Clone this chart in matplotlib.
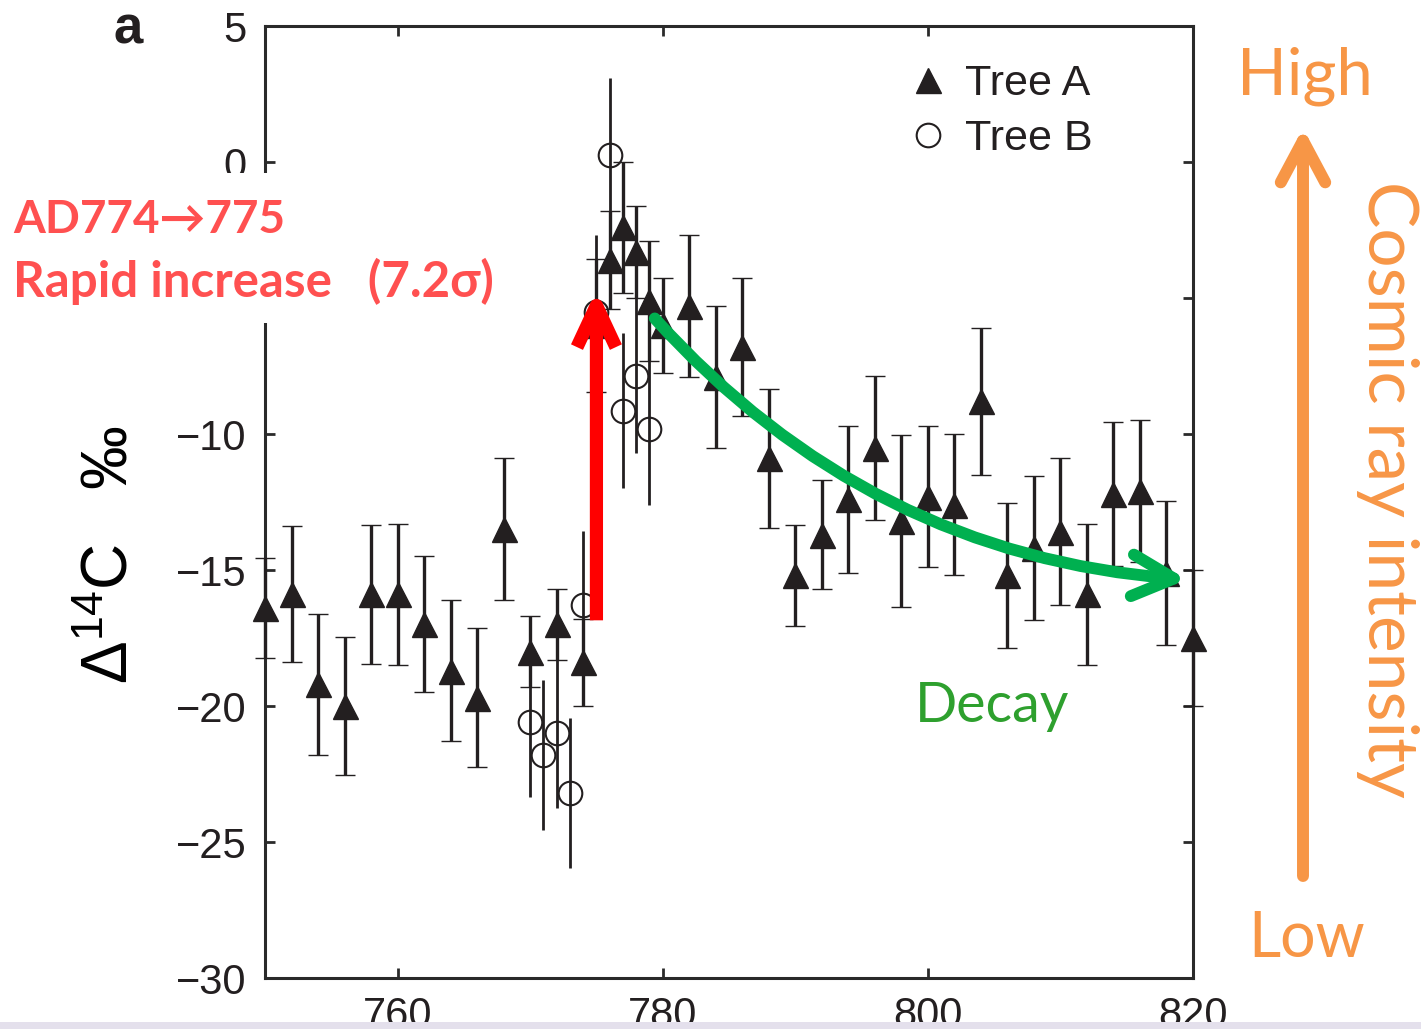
import matplotlib
matplotlib.use("Agg")
import matplotlib.pyplot as plt
from matplotlib.patches import FancyArrowPatch, Rectangle
from matplotlib.lines import Line2D

# ---------------- data ----------------
years_a = [750, 752, 754, 756, 758, 760, 762, 764, 766, 768, 770, 772, 774,
           775, 776, 777, 778, 779, 780, 782, 784, 786, 788, 790, 792, 794,
           796, 798, 800, 802, 804, 806, 808, 810, 812, 814, 816, 818, 820]
d14c_a = [-16.4, -15.9, -19.2, -20.0, -15.9, -15.9, -17.0, -18.7, -19.7, -13.5,
          -18.0, -17.0, -18.4, -6.0, -3.6, -2.4, -3.3, -5.1, -6.0, -5.3, -7.9,
          -6.8, -10.9, -15.2, -13.7, -12.4, -10.5, -13.2, -12.3, -12.6, -8.8,
          -15.2, -14.2, -13.6, -15.9, -12.2, -12.1, -15.1, -17.5]
err_a = [1.85, 2.5, 2.6, 2.55, 2.55, 2.6, 2.5, 2.6, 2.55, 2.6,
         1.3, 1.3, 1.6, 2.45, 1.8, 2.4, 1.7, 2.2, 1.75, 2.6, 2.6,
         2.55, 2.55, 1.85, 2.0, 2.7, 2.65, 3.15, 2.6, 2.6, 2.7,
         2.65, 2.65, 2.7, 2.6, 2.65, 2.6, 2.65, 2.5]

years_b = [770, 771, 772, 773, 774, 775, 776, 777, 778, 779]
d14c_b = [-20.6, -21.8, -21.0, -23.2, -16.3, -5.5, 0.25, -9.15, -7.85, -9.8]
err_b = [2.75, 2.75, 2.75, 2.75, 2.75, 2.8, 2.85, 2.85, 2.85, 2.8]

series_labels = ["Tree A", "Tree B"]
xticks = [760, 780, 800, 820]
yticks = [-30, -25, -20, -15, -10, -5, 0, 5]
ytick_labels = ["\u221230", "\u221225", "\u221220", "\u221215", "\u221210", "", "0", "5"]

# ---------------- figure ----------------
W, H = 1421, 1029
plt.rcParams["font.family"] = ["Liberation Sans", "DejaVu Sans"]
plt.rcParams["mathtext.default"] = "regular"
fig = plt.figure(figsize=(W / 100, H / 100), dpi=100)
fig.patch.set_facecolor("white")


def fx(px):
    return px / W


def fy(py):
    return 1 - py / H


ink = "#231f20"
ax = fig.add_axes([fx(265), fy(978), (1193 - 265) / W, (978 - 26) / H])
ax.set_xlim(750, 820)
ax.set_ylim(-30, 5)
ax.set_xticks(xticks)
ax.set_yticks(yticks)
ax.set_xticklabels([str(v) for v in xticks])
ax.set_yticklabels(ytick_labels)
for s in ax.spines.values():
    s.set_linewidth(2.2)
    s.set_color("#2a2a2a")
ax.tick_params(direction="in", length=7, width=2.0, top=True, right=True,
               labelsize=30, pad=13, colors="#2a2a2a", labelcolor=ink)

eb_a = ax.errorbar(years_a, d14c_a, yerr=err_a, fmt="^", color=ink, ms=18,
                   mew=1, capsize=7, elinewidth=2.4, capthick=2.4, zorder=3)
eb_b = ax.errorbar(years_b, d14c_b, yerr=err_b, fmt="o", mfc="none", mec=ink,
                   ecolor=ink, ms=17, mew=1.5, capsize=0, elinewidth=2.0,
                   zorder=3)
for cont in (eb_a, eb_b):
    for art in cont.get_children():
        art.set_clip_on(False)

handles = [Line2D([], [], marker="^", ls="none", color=ink, ms=18),
           Line2D([], [], marker="o", ls="none", mfc="none", mec=ink, ms=17,
                  mew=1.5)]
leg = ax.legend(handles, series_labels, loc="upper left",
                bbox_to_anchor=(fx(906), fy(64)), bbox_transform=fig.transFigure,
                frameon=False, borderpad=0, borderaxespad=0, handlelength=1.0,
                handletextpad=0.36, labelspacing=0.36, fontsize=31, numpoints=1)
for t in leg.get_texts():
    t.set_color(ink)

# red arrow (rapid increase)
ax.annotate("", xy=(775, -4.7), xytext=(775, -16.85), xycoords="data",
            arrowprops=dict(arrowstyle="->,head_length=30,head_width=14",
                            mutation_scale=1, color="#FF0000", lw=9.5,
                            shrinkA=0, shrinkB=0, capstyle="butt",
                            joinstyle="round"),
            annotation_clip=False, zorder=5)

# green arrow (decay)
ax.annotate("", xy=(819.55, -15.35), xytext=(779.4, -5.75), xycoords="data",
            arrowprops=dict(arrowstyle="->,head_length=30,head_width=15",
                            mutation_scale=1, color="#00B050", lw=8.5,
                            shrinkA=0, shrinkB=0, capstyle="round",
                            joinstyle="round",
                            connectionstyle="arc3,rad=0.2"),
            annotation_clip=False, zorder=5)

# orange arrow (cosmic ray intensity)
oarr = FancyArrowPatch(posA=(fx(1303), fy(876)), posB=(fx(1303), fy(128)),
                       transform=fig.transFigure,
                       arrowstyle="->,head_length=30,head_width=16",
                       mutation_scale=1, color="#F79646", lw=8.6,
                       shrinkA=0, shrinkB=0, capstyle="round",
                       joinstyle="round")
fig.add_artist(oarr)

# white box behind red annotation
fig.add_artist(Rectangle((0, fy(323)), fx(505), (323 - 173) / H,
                         transform=fig.transFigure, fc="white", ec="none",
                         zorder=1))

sans2 = ["Lato", "DejaVu Sans"]
fig.text(fx(13), fy(233), "AD774\u2192775", ha="left", va="baseline",
         fontsize=33, fontweight="bold", color="#FF5050", family=sans2, zorder=2)
fig.text(fx(13), fy(297), "Rapid increase   (7.2\u03c3)", ha="left",
         va="baseline", fontsize=35.5, fontweight="bold", color="#FF5050",
         family=sans2, zorder=2)

fig.text(fx(915), fy(722), "Decay", ha="left", va="baseline", fontsize=40,
         color="#2EA02E", family=sans2, zorder=2)
fig.text(fx(1237), fy(95), "High", ha="left", va="baseline", fontsize=47,
         color="#F79646", family=sans2, zorder=2)
fig.text(fx(1248), fy(957), "Low", ha="left", va="baseline", fontsize=45,
         color="#F79646", family=sans2, zorder=2)
fig.text(fx(1388), fy(489), "Cosmic ray intensity", rotation=-90, ha="center",
         va="center", fontsize=50, color="#F79646", family=sans2, zorder=2)

fig.text(fx(110), fy(555), "\u0394$^{14}$C   \u2030", rotation=90, ha="center",
         va="center", fontsize=46, color="black", zorder=2)
fig.text(fx(113), fy(43), "a", ha="left", va="baseline", fontsize=38,
         fontweight="bold", color=ink, zorder=2)

# light strip at the bottom of the screenshot
fig.add_artist(Rectangle((0, 0), 1, 7 / H, transform=fig.transFigure,
                         fc="#E4E0EC", ec="none", zorder=10))

fig.savefig("out.png", dpi=100)
